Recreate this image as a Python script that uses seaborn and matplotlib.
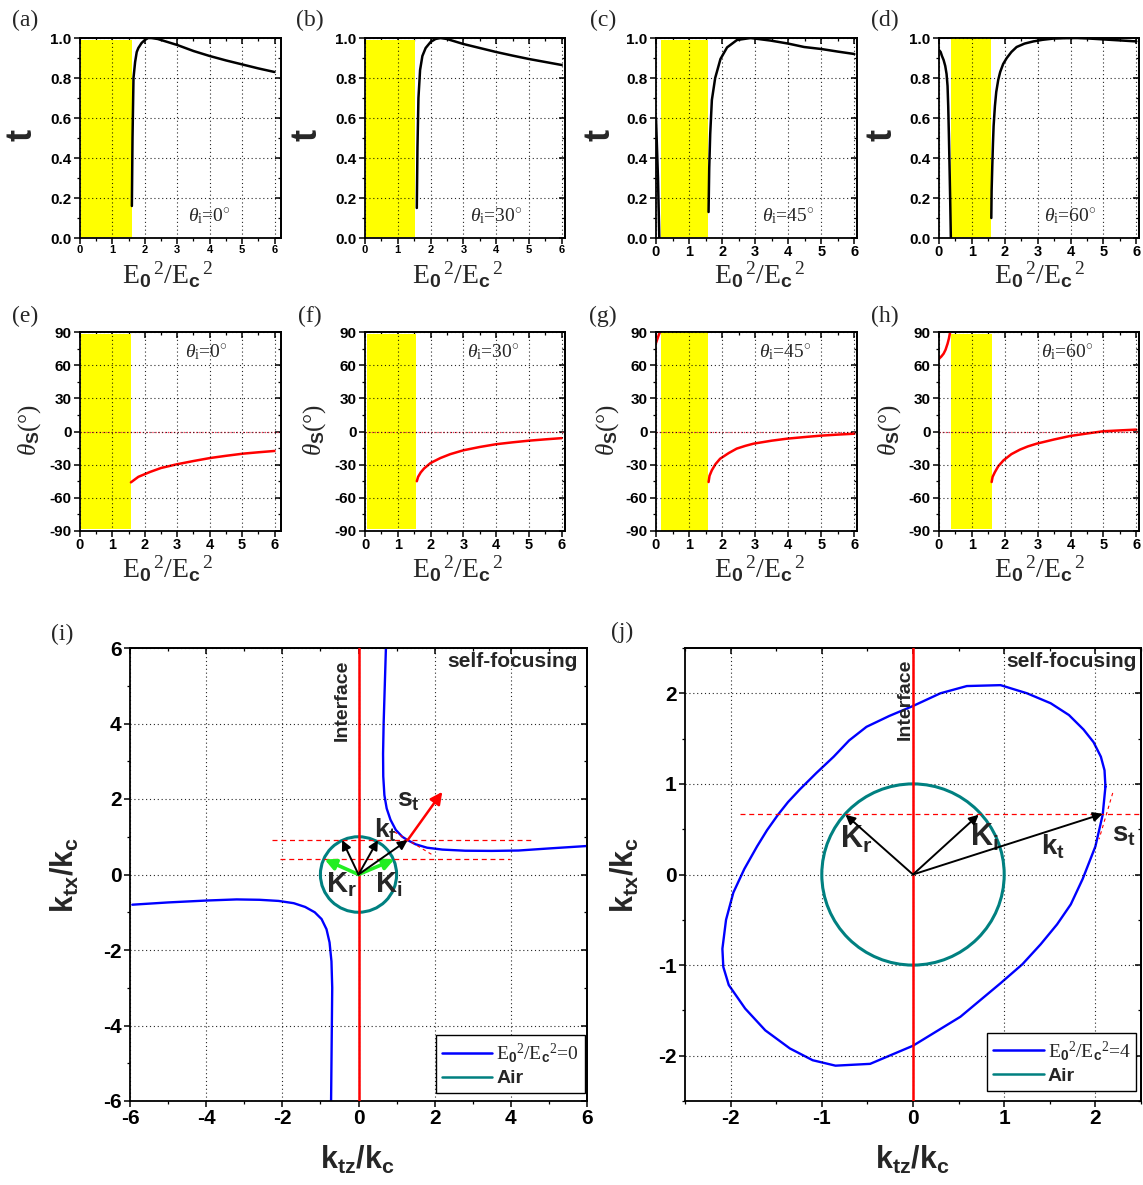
import numpy as np
import pandas as pd
import matplotlib
matplotlib.use("Agg")
import matplotlib.pyplot as plt
import seaborn as sns
from matplotlib.ticker import MultipleLocator
from matplotlib.lines import Line2D
from matplotlib.patches import Circle

# ---------------- data ----------------
theta_i = [0, 30, 45, 60]
tags_top = ["(a)", "(b)", "(c)", "(d)"]
tags_mid = ["(e)", "(f)", "(g)", "(h)"]

# transmission t  (right branch after the gap, left branch before)
a_x = [1.60, 1.62, 1.65, 1.70, 1.75, 1.80, 1.90, 2.00, 2.10, 2.20, 2.40, 2.70, 3.00, 3.50, 4.00, 4.50, 5.00, 5.50, 6.00]
a_t = [0.16, 0.50, 0.80, 0.88, 0.93, 0.95, 0.975, 0.99, 1.00, 1.00, 0.995, 0.98, 0.965, 0.935, 0.91, 0.888, 0.868, 0.848, 0.83]
b_x = [1.58, 1.60, 1.63, 1.68, 1.75, 1.85, 2.00, 2.15, 2.30, 2.50, 2.80, 3.00, 3.50, 4.00, 4.50, 5.00, 5.50, 6.00]
b_t = [0.15, 0.45, 0.70, 0.84, 0.91, 0.95, 0.98, 0.995, 1.00, 0.995, 0.98, 0.97, 0.95, 0.93, 0.912, 0.895, 0.88, 0.865]
c_lx = [0.00, 0.03, 0.06, 0.08, 0.10]
c_lt = [0.60, 0.45, 0.30, 0.15, 0.00]
c_x = [1.59, 1.61, 1.64, 1.69, 1.79, 1.95, 2.15, 2.45, 2.86, 3.47, 4.00, 4.48, 5.00, 5.50, 6.00]
c_t = [0.13, 0.35, 0.52, 0.69, 0.80, 0.895, 0.953, 0.99, 1.00, 0.987, 0.972, 0.955, 0.945, 0.932, 0.92]
d_lx = [0.00, 0.05, 0.09, 0.14, 0.19, 0.23, 0.26, 0.28, 0.30, 0.32, 0.34, 0.36]
d_lt = [0.94, 0.93, 0.91, 0.89, 0.86, 0.82, 0.76, 0.66, 0.52, 0.36, 0.19, 0.00]
d_x = [1.59, 1.60, 1.62, 1.64, 1.66, 1.70, 1.74, 1.80, 1.86, 1.95, 2.06, 2.20, 2.36, 2.60, 2.87, 3.15, 3.47, 3.80, 4.18, 4.60, 4.99, 5.50, 6.00]
d_t = [0.10, 0.24, 0.36, 0.47, 0.56, 0.66, 0.73, 0.79, 0.83, 0.87, 0.90, 0.93, 0.955, 0.972, 0.983, 0.991, 0.997, 0.999, 1.00, 0.997, 0.993, 0.988, 0.983]

# angle theta_s (deg)
e_x = [1.57, 1.80, 2.16, 2.50, 2.98, 3.50, 4.01, 4.50, 5.04, 5.50, 6.00]
e_s = [-46.0, -41.0, -36.6, -33.0, -29.7, -26.7, -24.0, -22.0, -20.0, -18.8, -17.6]
f_x = [1.58, 1.62, 1.70, 1.80, 2.00, 2.30, 2.60, 3.00, 3.50, 4.00, 4.50, 5.00, 5.50, 6.00]
f_s = [-45.0, -41.0, -37.0, -33.5, -28.5, -24.0, -20.5, -17.0, -14.0, -11.5, -9.8, -8.3, -7.1, -6.0]
g_lx = [0.00, 0.04, 0.08, 0.12]
g_ls = [80.0, 83.5, 87.0, 90.0]
g_x = [1.59, 1.62, 1.69, 1.80, 1.94, 2.20, 2.44, 2.70, 2.95, 3.50, 3.96, 4.50, 4.97, 5.50, 6.00]
g_s = [-45.7, -40.0, -35.0, -29.5, -24.6, -19.5, -15.5, -13.0, -11.0, -8.3, -6.5, -5.0, -3.8, -2.8, -2.0]
h_lx = [0.00, 0.07, 0.14, 0.20, 0.26, 0.30, 0.34]
h_ls = [65.8, 67.8, 70.4, 74.0, 79.4, 84.0, 90.0]
h_x = [1.60, 1.63, 1.70, 1.80, 1.96, 2.20, 2.46, 2.70, 2.97, 3.50, 3.98, 4.50, 4.99, 5.50, 6.00]
h_s = [-45.7, -41.0, -36.7, -31.5, -26.1, -20.5, -16.4, -13.5, -11.0, -7.2, -4.1, -1.8, 0.2, 1.0, 1.7]

# yellow gap bands
gap_lo_top = [0.04, 0.04, 0.15, 0.38]
gap_hi_top = [1.60, 1.53, 1.58, 1.58]
gap_top_t = [0.99, 0.99, 0.99, 1.00]
gap_lo_mid = [0.03, 0.05, 0.15, 0.37]
gap_hi_mid = [1.57, 1.55, 1.57, 1.60]
gap_mid_s = [88, 88, 90, 88]

# (i) dispersion curve E0^2/Ec^2 = 0  (two branches)
i_up_z = [0.72, 0.69, 0.66, 0.645, 0.65, 0.68, 0.74, 0.84, 0.98, 1.15, 1.29, 1.50, 1.80, 2.20, 2.80, 3.50, 4.20, 5.00, 6.00]
i_up_x = [6.00, 5.00, 4.00, 3.20, 2.60, 2.10, 1.75, 1.45, 1.18, 1.00, 0.91, 0.80, 0.71, 0.66, 0.63, 0.625, 0.635, 0.69, 0.755]
i_lo_z = [-5.94, -5.00, -4.00, -3.20, -2.60, -2.10, -1.70, -1.40, -1.15, -0.97, -0.84, -0.76, -0.71, -0.69, -0.70, -0.71, -0.72]
i_lo_x = [-0.80, -0.74, -0.69, -0.66, -0.67, -0.70, -0.76, -0.86, -1.00, -1.18, -1.45, -1.80, -2.30, -3.00, -4.00, -5.00, -6.00]
i_black_z = [-0.43, 0.51, 1.29]
i_black_x = [0.91, 0.91, 0.91]
i_green_z = [-0.89, 0.94]
i_green_x = [0.40, 0.40]
i_st_z = [1.29, 2.20]
i_st_x = [0.91, 2.19]
i_dash_y = [0.91, 0.42]
i_dash_z0 = [-2.28, -2.07]
i_dash_z1 = [4.55, 3.99]
i_tan_z = [0.94, 1.94]
i_tan_x = [1.13, 0.52]

# (j) dispersion curve E0^2/Ec^2 = 4 (closed)
j_z = [2.11, 2.10, 2.06, 1.98, 1.87, 1.71, 1.51, 1.25, 0.96, 0.59, 0.30, 0.00, -0.26, -0.51, -0.70, -0.87,
       -1.06, -1.24, -1.37, -1.48, -1.60, -1.71, -1.85, -1.97, -2.05, -2.09, -2.08, -2.02, -1.84, -1.62, -1.35,
       -1.10, -0.85, -0.47, 0.00, 0.52, 0.96, 1.20, 1.40, 1.58, 1.73, 1.86, 2.00, 2.08, 2.11]
j_x = [0.97, 1.15, 1.30, 1.46, 1.60, 1.76, 1.89, 2.00, 2.09, 2.08, 2.00, 1.86, 1.75, 1.63, 1.48, 1.30,
       1.12, 0.94, 0.80, 0.66, 0.49, 0.31, 0.06, -0.20, -0.50, -0.82, -1.02, -1.22, -1.48, -1.72, -1.92,
       -2.05, -2.11, -2.09, -1.89, -1.57, -1.20, -0.99, -0.77, -0.55, -0.33, -0.05, 0.31, 0.66, 0.97]
j_black_z = [-0.74, 0.72, 2.08]
j_black_x = [0.66, 0.66, 0.67]
j_st_z = [2.08, 2.52]
j_st_x = [0.67, 0.49]
j_dash_y = 0.67
j_dash_z = [-1.90, 2.50]
j_tan_z = [2.19, 2.04]
j_tan_x = [0.90, 0.39]
air_radius = 1.0

# ---------------- style ----------------
sns.set_theme(style="ticks")
plt.rcParams.update({
    "font.family": ["Liberation Sans", "DejaVu Sans"],
    "mathtext.fontset": "custom",
    "mathtext.rm": "Liberation Serif:regular",
    "mathtext.it": "Liberation Serif:italic:regular",
    "mathtext.bf": "Liberation Sans:bold",
    "axes.unicode_minus": False,
    "axes.linewidth": 1.3,
    "axes.edgecolor": "black",
    "xtick.color": "black",
    "ytick.color": "black",
    "xtick.major.width": 1.1,
    "ytick.major.width": 1.1,
    "xtick.minor.width": 0.9,
    "ytick.minor.width": 0.9,
    "xtick.major.size": 4,
    "ytick.major.size": 4,
    "xtick.minor.size": 2.5,
    "ytick.minor.size": 2.5,
})

W, H = 1143, 1185
fig = plt.figure(figsize=(W / 100, H / 100), dpi=100)


def add_ax(l, t, r, b):
    return fig.add_axes([l / W, 1 - b / H, (r - l) / W, (b - t) / H])


def ftext(px, py, s, **kw):
    fig.text(px / W, 1 - py / H, s, **kw)


def setup(ax, xmaj, xmin, ymaj, ymin, xsize, ysize, xpad=2):
    ax.xaxis.set_major_locator(MultipleLocator(xmaj))
    ax.xaxis.set_minor_locator(MultipleLocator(xmin))
    ax.yaxis.set_major_locator(MultipleLocator(ymaj))
    ax.yaxis.set_minor_locator(MultipleLocator(ymin))
    ax.tick_params(which="both", direction="out", top=False, right=False)
    ax.tick_params(axis="x", labelsize=xsize, pad=xpad)
    ax.tick_params(axis="y", labelsize=ysize, pad=2)
    ax.grid(True, which="major", ls=(0, (1, 2.5)), color="black", lw=0.8, alpha=0.85)
    ax.set_axisbelow(False)
    sx = ax.secondary_xaxis("top")
    sx.xaxis.set_major_locator(MultipleLocator(xmaj))
    sx.xaxis.set_minor_locator(MultipleLocator(xmin))
    sx.tick_params(which="both", direction="in", labeltop=False)
    sy = ax.secondary_yaxis("right")
    sy.yaxis.set_major_locator(MultipleLocator(ymaj))
    sy.yaxis.set_minor_locator(MultipleLocator(ymin))
    sy.tick_params(which="both", direction="in", labelright=False)


def line(ax, x, y, color, lw):
    df = pd.DataFrame({"x": x, "y": y})
    sns.lineplot(data=df, x="x", y="y", ax=ax, color=color, lw=lw, sort=False,
                 estimator=None, legend=False)
    ax.set_xlabel("")
    ax.set_ylabel("")


xlabel_E = r"E$_{\mathbf{0}}$$^{\,2}$/E$_{\mathbf{c}}$$^{\,2}$"
serif = dict(family="Liberation Serif", fontweight="normal")

cols_l = [80, 365, 656, 939]
cols_r = [281, 565, 857, 1139]
xmax_top = [6.2, 6.1, 6.08, 6.08]
ylab_x = [22, 307, 600, 882]
xlab_c = [168, 458, 760, 1040]
xt_size = [8, 8, 10.5, 10.5]

t_right = [(a_x, a_t), (b_x, b_t), (c_x, c_t), (d_x, d_t)]
t_left = [None, None, (c_lx, c_lt), (d_lx, d_lt)]
s_right = [(e_x, e_s), (f_x, f_s), (g_x, g_s), (h_x, h_s)]
s_left = [None, None, (g_lx, g_ls), (h_lx, h_ls)]

for k in range(4):
    # ---- transmission row
    ax = add_ax(cols_l[k], 38, cols_r[k], 238)
    ax.fill_between([gap_lo_top[k], gap_hi_top[k]], 0.005, gap_top_t[k], color="#ffff00", lw=0, zorder=1)
    line(ax, *t_right[k], "black", 1.8)
    if t_left[k] is not None:
        line(ax, *t_left[k], "black", 1.8)
    ax.set_xlim(0, xmax_top[k])
    ax.set_ylim(0, 1.0)
    setup(ax, 1, 0.5, 0.2, 0.1, xt_size[k], 11, xpad=1)
    ax.set_yticks([0, 0.2, 0.4, 0.6, 0.8, 1.0])
    ax.set_yticklabels(["0.0", "0.2", "0.4", "0.6", "0.8", "1.0"])
    ax.text(4.0, 0.11, r"$\theta_{\mathrm{i}}$=%d$^{\circ}$" % theta_i[k], ha="center", va="center",
            fontsize=14, **serif)
    ftext(ylab_x[k], 135, "t", fontsize=26, fontweight="bold", rotation=90, ha="center", va="center")
    ftext(xlab_c[k], 260, xlabel_E, fontsize=20, ha="center", va="top", **serif)
    ftext(ylab_x[k] + 3, 20, tags_top[k], fontsize=17, ha="center", va="center", **serif)

    # ---- angle row
    ax = add_ax(cols_l[k], 332, cols_r[k], 531)
    ax.fill_between([gap_lo_mid[k], gap_hi_mid[k]], -gap_mid_s[k], gap_mid_s[k], color="#ffff00", lw=0, zorder=1)
    ax.axhline(0, color="#ff3050", ls=(0, (1, 1.5)), lw=0.9, zorder=2)
    line(ax, *s_right[k], "#ff0000", 1.8)
    if s_left[k] is not None:
        line(ax, *s_left[k], "#ff0000", 1.8)
    ax.set_xlim(0, xmax_top[k])
    ax.set_ylim(-90, 90)
    setup(ax, 1, 0.5, 30, 15, 10.5, 11, xpad=1)
    ax.text(3.9, 72, r"$\theta_{\mathrm{i}}$=%d$^{\circ}$" % theta_i[k], ha="center", va="center",
            fontsize=14, **serif)
    ftext(ylab_x[k] + 8, 430, r"$\theta_{\mathbf{S}}$(°)", fontsize=18, rotation=90, ha="center",
          va="center", **serif)
    ftext(xlab_c[k], 554, xlabel_E, fontsize=20, ha="center", va="top", **serif)
    ftext(ylab_x[k] + 3, 316, tags_mid[k], fontsize=17, ha="center", va="center", **serif)

# ---------------- (i) ----------------
BLUE, TEAL, RED, GREEN = "#0000ff", "#008080", "#ff0000", "#22ee22"
arrow_k = dict(arrowstyle="-|>", color="black", lw=1.4, mutation_scale=14, shrinkA=0, shrinkB=0)

axi = add_ax(130, 648, 587, 1101)
line(axi, i_up_z, i_up_x, BLUE, 1.7)
line(axi, i_lo_z, i_lo_x, BLUE, 1.7)
axi.add_patch(Circle((0, 0), air_radius, fill=False, ec=TEAL, lw=2.2, zorder=3))
axi.axvline(0, color=RED, lw=1.8, zorder=3)
for y0, z0, z1 in zip(i_dash_y, i_dash_z0, i_dash_z1):
    axi.plot([z0, z1], [y0, y0], color=RED, ls=(0, (4, 3)), lw=0.9, zorder=3)
axi.plot(i_tan_z, i_tan_x, color=RED, ls=(0, (3, 3)), lw=0.8, zorder=3)
for z, x in zip(i_green_z, i_green_x):
    axi.annotate("", xy=(z, x), xytext=(0, 0),
                 arrowprops=dict(arrowstyle="-|>", color=GREEN, lw=2.6, mutation_scale=16, shrinkA=0, shrinkB=0),
                 zorder=4)
for z, x in zip(i_black_z, i_black_x):
    axi.annotate("", xy=(z, x), xytext=(0, 0), arrowprops=arrow_k, zorder=5)
axi.annotate("", xy=(i_st_z[1], i_st_x[1]), xytext=(i_st_z[0], i_st_x[0]),
             arrowprops=dict(arrowstyle="-|>", color=RED, lw=1.8, mutation_scale=18, shrinkA=0, shrinkB=0), zorder=5)
axi.set_xlim(-6, 6)
axi.set_ylim(-6, 6)
setup(axi, 2, 1, 2, 1, 15, 15)
axi.text(-0.42, 4.62, "Interface", rotation=90, ha="center", va="center", fontsize=14, fontweight="bold")
axi.text(5.76, 5.63, "self-focusing", ha="right", va="center", fontsize=15, fontweight="bold")
axi.text(-0.45, -0.28, r"$\mathbf{K_r}$", ha="center", va="center", fontsize=21)
axi.text(0.80, -0.28, r"$\mathbf{K_i}$", ha="center", va="center", fontsize=21)
axi.text(0.72, 1.18, r"$\mathbf{k_t}$", ha="center", va="center", fontsize=19)
axi.text(1.30, 1.95, r"$\mathbf{s_t}$", ha="center", va="center", fontsize=19)
hnd = [Line2D([], [], color=BLUE, lw=1.8), Line2D([], [], color=TEAL, lw=1.8)]


def make_legend(ax, label0, anchor):
    leg = ax.legend(hnd, [label0, "Air"], loc="lower right", bbox_to_anchor=anchor, borderaxespad=0,
                    fontsize=14, handlelength=2.6, fancybox=False, edgecolor="black", framealpha=1,
                    borderpad=0.3, labelspacing=0.25, handletextpad=0.2)
    leg.get_frame().set_linewidth(1.0)
    leg.get_texts()[0].set_fontfamily("Liberation Serif")
    leg.get_texts()[0].set_fontweight("normal")
    leg.get_texts()[1].set_fontweight("bold")


make_legend(axi, r"E$_{\mathbf{0}}$$^{2}$/E$_{\mathbf{c}}$$^{2}$=0", (0.995, 0.017))
ftext(65, 875, r"$\mathbf{k_{tx}/k_c}$", fontsize=22, rotation=90, ha="center", va="center")
ftext(357, 1160, r"$\mathbf{k_{tz}/k_c}$", fontsize=22, ha="center", va="center")
ftext(62, 634, "(i)", fontsize=17, ha="center", va="center", **serif)

# ---------------- (j) ----------------
axj = add_ax(685, 648, 1141, 1101)
line(axj, j_z, j_x, BLUE, 1.7)
axj.add_patch(Circle((0, 0), air_radius, fill=False, ec=TEAL, lw=2.2, zorder=3))
axj.axvline(0, color=RED, lw=1.8, zorder=3)
axj.plot(j_dash_z, [j_dash_y, j_dash_y], color=RED, ls=(0, (4, 3)), lw=0.9, zorder=3)
axj.plot(j_tan_z, j_tan_x, color=RED, ls=(0, (3, 3)), lw=0.8, zorder=3)
for z, x in zip(j_black_z, j_black_x):
    axj.annotate("", xy=(z, x), xytext=(0, 0), arrowprops=arrow_k, zorder=5)
axj.annotate("", xy=(j_st_z[1], j_st_x[1]), xytext=(j_st_z[0], j_st_x[0]),
             arrowprops=dict(arrowstyle="-|>", color=RED, lw=1.8, mutation_scale=18, shrinkA=0, shrinkB=0), zorder=5)
axj.set_xlim(-2.5, 2.5)
axj.set_ylim(-2.5, 2.5)
setup(axj, 1, 0.5, 1, 0.5, 15, 15)
axj.text(-0.08, 1.93, "Interface", rotation=90, ha="center", va="center", fontsize=14, fontweight="bold")
axj.text(2.45, 2.35, "self-focusing", ha="right", va="center", fontsize=15, fontweight="bold")
axj.text(-0.62, 0.39, r"$\mathbf{K_r}$", ha="center", va="center", fontsize=22)
axj.text(0.78, 0.41, r"$\mathbf{K_i}$", ha="center", va="center", fontsize=22)
axj.text(1.53, 0.31, r"$\mathbf{k_t}$", ha="center", va="center", fontsize=20)
axj.text(2.31, 0.44, r"$\mathbf{s_t}$", ha="center", va="center", fontsize=20)
make_legend(axj, r"E$_{\mathbf{0}}$$^{2}$/E$_{\mathbf{c}}$$^{2}$=4", (0.99, 0.022))
ftext(625, 875, r"$\mathbf{k_{tx}/k_c}$", fontsize=22, rotation=90, ha="center", va="center")
ftext(912, 1160, r"$\mathbf{k_{tz}/k_c}$", fontsize=22, ha="center", va="center")
ftext(622, 632, "(j)", fontsize=17, ha="center", va="center", **serif)

# make every tick label bold (after the tick labels exist)
fig.canvas.draw()
for a in fig.axes:
    for lab in a.get_xticklabels() + a.get_yticklabels():
        lab.set_fontweight("bold")

fig.savefig("out.png", dpi=100)
